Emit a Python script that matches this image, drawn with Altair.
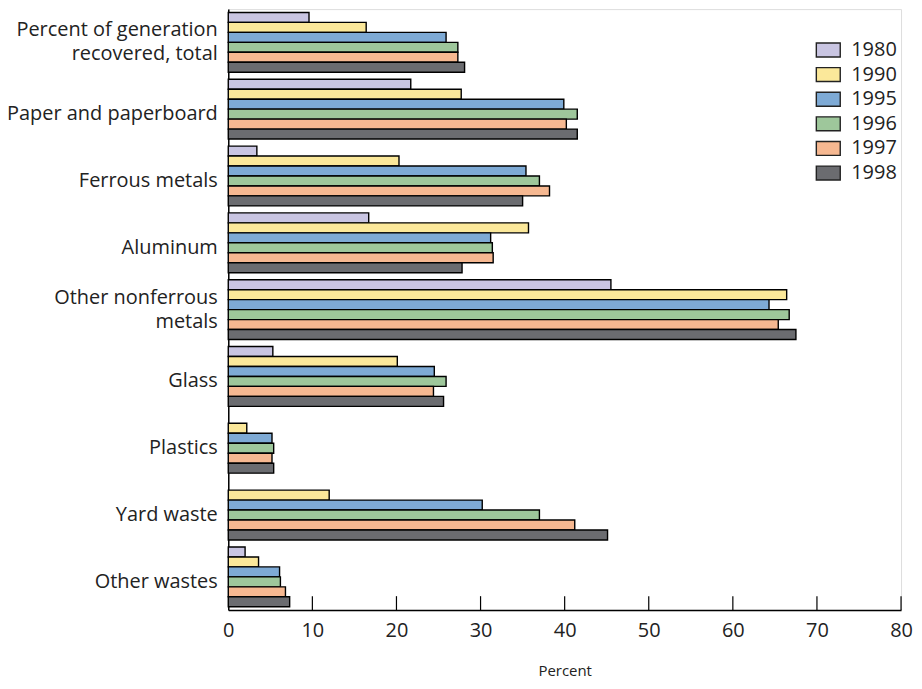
import altair as alt
import pandas as pd

categories = [
    "Percent of generation|recovered, total",
    "Paper and paperboard",
    "Ferrous metals",
    "Aluminum",
    "Other nonferrous|metals",
    "Glass",
    "Plastics",
    "Yard waste",
    "Other wastes",
]
years = ["1980", "1990", "1995", "1996", "1997", "1998"]
v1980 = [9.6, 21.7, 3.4, 16.7, 45.5, 5.3, None, None, 2.0]
v1990 = [16.4, 27.7, 20.3, 35.7, 66.4, 20.1, 2.2, 12.0, 3.6]
v1995 = [25.9, 39.9, 35.4, 31.2, 64.3, 24.5, 5.2, 30.2, 6.1]
v1996 = [27.3, 41.5, 37.0, 31.4, 66.7, 25.9, 5.4, 37.0, 6.2]
v1997 = [27.3, 40.2, 38.2, 31.5, 65.4, 24.4, 5.2, 41.2, 6.8]
v1998 = [28.1, 41.5, 35.0, 27.8, 67.5, 25.6, 5.4, 45.1, 7.3]
colors = ["#c9c5e2", "#fbe89a", "#7eaad5", "#9ec79b", "#f6b891", "#6b6c70"]
tick_values = [10, 20, 30, 40, 50, 60, 70, 80]

series = [v1980, v1990, v1995, v1996, v1997, v1998]
rows = []
for yr, vals in zip(years, series):
    for cat, v in zip(categories, vals):
        rows.append({"category": cat, "year": yr, "value": v})
df = pd.DataFrame(rows)
ticks_df = pd.DataFrame({"t": tick_values})

FONT = "Open Sans"

bars = alt.Chart(df).mark_bar(stroke="black", strokeWidth=1.4).encode(
    y=alt.Y(
        "category:N",
        sort=categories,
        scale=alt.Scale(paddingInner=0.105, paddingOuter=0.05),
        axis=alt.Axis(
            title=None,
            ticks=False,
            domainColor="black",
            domainWidth=1.5,
            labelFont=FONT,
            labelFontSize=20,
            labelColor="#222222",
            labelPadding=11,
            labelLimit=300,
            labelLineHeight=24,
            labelOffset={
                "condition": {"test": "indexof(datum.label, '|') >= 0", "value": -12},
                "value": 5,
            },
            labelExpr="split(datum.label, '|')",
        ),
    ),
    yOffset=alt.YOffset("year:N", sort=years, scale=alt.Scale(paddingInner=0, paddingOuter=0)),
    x=alt.X(
        "value:Q",
        scale=alt.Scale(domain=[0, 80], nice=False),
        axis=alt.Axis(
            title="Percent",
            values=[0, 10, 20, 30, 40, 50, 60, 70, 80],
            grid=False,
            ticks=False,
            labelFlush=False,
            domainColor="black",
            domainWidth=1.5,
            labelFont=FONT,
            labelFontSize=20,
            labelColor="#222222",
            labelPadding=10,
            titleFont=FONT,
            titleFontSize=15,
            titleFontWeight="normal",
            titleColor="#222222",
            titlePadding=24,
        ),
    ),
    color=alt.Color(
        "year:N",
        sort=years,
        scale=alt.Scale(domain=years, range=colors),
        legend=alt.Legend(
            title=None,
            orient="none",
            legendX=589,
            legendY=28,
            symbolType="M-1,-0.583L1,-0.583L1,0.583L-1,0.583Z",
            symbolSize=576,
            symbolStrokeColor="#222222",
            symbolStrokeWidth=1.4,
            symbolOpacity=1,
            labelFont=FONT,
            labelFontSize=20,
            labelColor="#222222",
            labelOffset=10,
            rowPadding=1.7,
        ),
    ),
)

tick_rules = alt.Chart(ticks_df).mark_rule(color="black", strokeWidth=1.2).encode(
    x=alt.X("t:Q", scale=alt.Scale(domain=[0, 80], nice=False)),
    y=alt.value(589),
    y2=alt.value(603),
)

chart = alt.layer(bars, tick_rules).properties(
    width=675,
    height=603,
    padding={"left": 221, "top": 0, "right": 13, "bottom": 70},
    autosize=alt.AutoSizeParams(type="none"),
).configure_view(stroke=None).configure(background="white")

chart.save("out.html", embed_options={"renderer": "svg", "actions": False})
